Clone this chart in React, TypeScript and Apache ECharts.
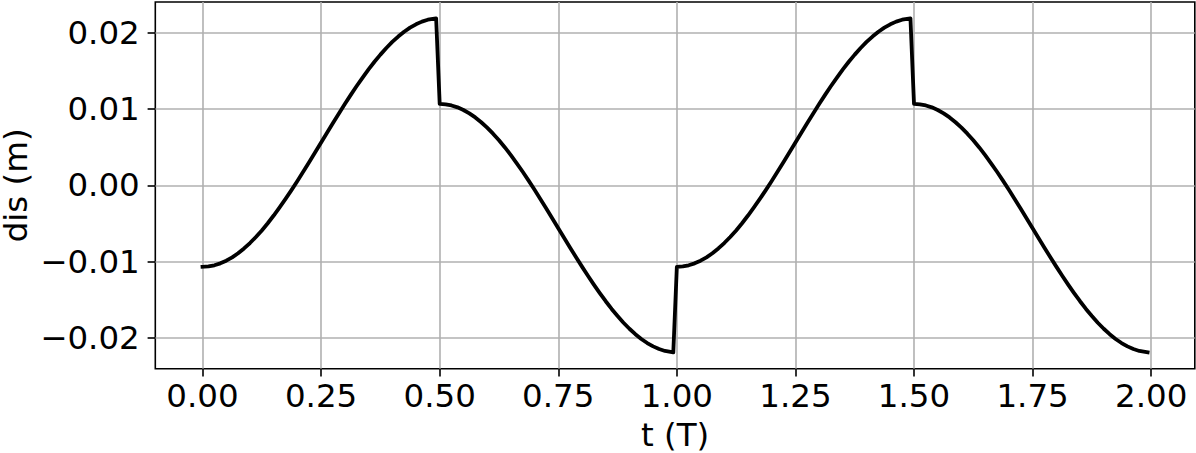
import React, { useEffect, useRef } from "react";
import * as echarts from "echarts";

// Time samples (in periods T) for one half-period, and readings of displacement (m)
const halfTimes = [
  0, 0.0125, 0.025, 0.0375, 0.05, 0.0625, 0.075, 0.0875, 0.1, 0.1125, 0.125,
  0.1375, 0.15, 0.1625, 0.175, 0.1875, 0.2, 0.2125, 0.225, 0.2375, 0.25,
  0.2625, 0.275, 0.2875, 0.3, 0.3125, 0.325, 0.3375, 0.35, 0.3625, 0.375,
  0.3875, 0.4, 0.4125, 0.425, 0.4375, 0.45, 0.4625, 0.475, 0.4925,
];
const riseValues = [
  -0.01066, -0.01061, -0.01046, -0.01021, -0.00986, -0.00942, -0.00889,
  -0.00826, -0.00755, -0.00676, -0.0059, -0.00496, -0.00395, -0.00289,
  -0.00178, -0.00062, 0.00058, 0.00181, 0.00306, 0.00433, 0.00562, 0.00689,
  0.00816, 0.00941, 0.01064, 0.01184, 0.013, 0.01411, 0.01517, 0.01618,
  0.01711, 0.01798, 0.01877, 0.01948, 0.02011, 0.02064, 0.02108, 0.02143,
  0.02168, 0.02186,
];
const fallValues = [
  0.01066, 0.01061, 0.01046, 0.01021, 0.00986, 0.00942, 0.00889, 0.00826,
  0.00755, 0.00676, 0.0059, 0.00496, 0.00395, 0.00289, 0.00178, 0.00062,
  -0.00058, -0.00181, -0.00306, -0.00433, -0.00562, -0.00689, -0.00816,
  -0.00941, -0.01064, -0.01184, -0.013, -0.01411, -0.01517, -0.01618,
  -0.01711, -0.01798, -0.01877, -0.01948, -0.02011, -0.02064, -0.02108,
  -0.02143, -0.02168, -0.02186,
];
// Start time of each half-period segment and which reading set it uses
const segmentStarts = [0, 0.5, 1.0, 1.5];
const segmentKinds = ["rise", "fall", "rise", "fall"];

const xTicks = [0, 0.25, 0.5, 0.75, 1.0, 1.25, 1.5, 1.75, 2.0];
const yTicks = [-0.02, -0.01, 0, 0.01, 0.02];

const xName = "t (T)";
const yName = "dis (m)";

const FONT = "DejaVu Sans";
const FS = 32.5;

export default function App() {
  const ref = useRef<HTMLDivElement>(null);

  useEffect(() => {
    document.body.style.margin = "0";
    if (!ref.current) return;
    const chart = echarts.init(ref.current, undefined, { renderer: "svg" });

    const data: number[][] = [];
    segmentStarts.forEach((start, i) => {
      const vals = segmentKinds[i] === "rise" ? riseValues : fallValues;
      halfTimes.forEach((t, j) => {
        data.push([+(start + t).toFixed(4), vals[j]]);
      });
    });

    const fmt = (v: number) => {
      const s = (Math.abs(v) < 1e-12 ? 0 : v).toFixed(2);
      return s.replace("-", "\u2212");
    };

    chart.setOption({
      animation: false,
      backgroundColor: "#ffffff",
      grid: {
        left: 155.3,
        top: 2,
        width: 1039.5,
        height: 366.7,
        show: true,
        borderColor: "#000000",
        borderWidth: 1.6,
        backgroundColor: "transparent",
        containLabel: false,
        outerBoundsMode: "none",
      },
      xAxis: {
        type: "value",
        min: -0.0996,
        max: 2.092,
        name: xName,
        nameLocation: "middle",
        nameGap: 50,
        nameMoveOverlap: false,
        nameTextStyle: { fontFamily: FONT, fontSize: FS, color: "#000000" },
        axisLine: { show: false, onZero: false },
        axisTick: {
          show: true,
          inside: false,
          length: 7.7,
          customValues: xTicks,
          lineStyle: { color: "#000000", width: 1.6 },
        },
        axisLabel: {
          show: true,
          customValues: xTicks,
          margin: 11,
          fontFamily: FONT,
          fontSize: FS,
          color: "#000000",
          formatter: (v: number) => fmt(v),
        },
        splitLine: {
          show: true,
          lineStyle: { color: "#b0b0b0", width: 1.6 },
        },
      },
      yAxis: {
        type: "value",
        min: -0.024,
        max: 0.024,
        name: yName,
        nameLocation: "middle",
        nameGap: 126,
        nameMoveOverlap: false,
        nameTextStyle: {
          fontFamily: FONT,
          fontSize: FS,
          lineHeight: 26,
          color: "#000000",
        },
        axisLine: { show: false, onZero: false },
        axisTick: {
          show: true,
          inside: false,
          length: 7.7,
          customValues: yTicks,
          lineStyle: { color: "#000000", width: 1.6 },
        },
        axisLabel: {
          show: true,
          customValues: yTicks,
          margin: 15.5,
          fontFamily: FONT,
          fontSize: FS,
          color: "#000000",
          formatter: (v: number) => fmt(v),
        },
        splitLine: {
          show: true,
          lineStyle: { color: "#b0b0b0", width: 1.6 },
        },
      },
      series: [
        {
          type: "line",
          data,
          showSymbol: false,
          symbol: "none",
          smooth: false,
          clip: false,
          lineStyle: { color: "#000000", width: 3.8, cap: "square", join: "round" },
        },
      ],
    });

    return () => chart.dispose();
  }, []);

  return <div ref={ref} style={{ width: 1196, height: 453 }} />;
}
